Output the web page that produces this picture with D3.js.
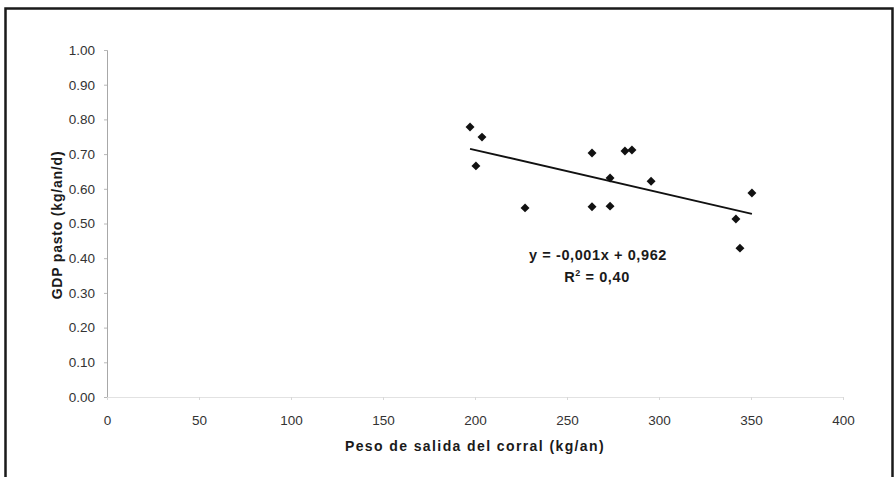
<!DOCTYPE html>
<html>
<head>
<meta charset="utf-8">
<script src="https://cdn.jsdelivr.net/npm/d3@7"></script>
<style>
  html, body { margin: 0; padding: 0; background: #fff; }
  svg { display: block; font-family: "Liberation Sans", Arial, sans-serif; }
</style>
</head>
<body>
<svg id="chart" width="896" height="477"></svg>
<script>
// Exit weight from the pen (kg/an) and average daily gain on pasture (kg/an/d)
const pesoSalida = [197.3, 203.8, 200.5, 227.2, 263.6, 281.5, 285.3, 273.4, 295.7, 263.6, 273.4, 350.5, 341.8, 344.0];
const gdpPasto   = [0.778, 0.749, 0.666, 0.545, 0.703, 0.709, 0.712, 0.631, 0.622, 0.548, 0.550, 0.588, 0.513, 0.429];

const xTicks = [0, 50, 100, 150, 200, 250, 300, 350, 400];
const yTicks = [0, 0.1, 0.2, 0.3, 0.4, 0.5, 0.6, 0.7, 0.8, 0.9, 1.0];

const ecuacion = "y = -0,001x + 0,962";
const r2Valor = "0,40";

const svg = d3.select("#chart");

// Outer frame
svg.append("rect")
  .attr("x", 5.5).attr("y", 8.5)
  .attr("width", 887).attr("height", 480)
  .attr("fill", "none").attr("stroke", "#1a1a1a").attr("stroke-width", 2.5);

const x = d3.scaleLinear().domain([0, 400]).range([107, 843]);
const y = d3.scaleLinear().domain([0, 1]).range([397, 50]);

// Y axis
const yAxis = svg.append("g")
  .attr("transform", "translate(107,0)")
  .call(d3.axisLeft(y).tickValues(yTicks).tickFormat(d3.format(".2f")).tickSize(3).tickPadding(9));
yAxis.select(".domain").attr("stroke", "#a8a8a8");
yAxis.selectAll(".tick line").attr("stroke", "#b8b8b8");
yAxis.selectAll(".tick text").attr("fill", "#333").attr("font-size", 13.5);

// X axis
const xAxis = svg.append("g")
  .attr("transform", "translate(0,397)")
  .call(d3.axisBottom(x).tickValues(xTicks).tickFormat(d3.format("d")).tickSize(3).tickPadding(15));
xAxis.select(".domain").attr("stroke", "#e2e2e2");
xAxis.selectAll(".tick line").attr("stroke", "#d8d8d8");
xAxis.selectAll(".tick text").attr("fill", "#333").attr("font-size", 13.5);

// Axis titles
svg.append("text")
  .attr("x", 475).attr("y", 451)
  .attr("text-anchor", "middle")
  .attr("font-size", 14).attr("font-weight", "bold").attr("fill", "#1a1a1a")
  .attr("letter-spacing", 1.4)
  .text("Peso de salida del corral (kg/an)");

svg.append("text")
  .attr("transform", "translate(62,225) rotate(-90)")
  .attr("text-anchor", "middle")
  .attr("font-size", 14).attr("font-weight", "bold").attr("fill", "#1a1a1a")
  .attr("letter-spacing", 0.8)
  .text("GDP pasto (kg/an/d)");

// Least-squares trend line
const n = pesoSalida.length;
const mx = d3.mean(pesoSalida), my = d3.mean(gdpPasto);
let sxy = 0, sxx = 0;
for (let i = 0; i < n; i++) {
  sxy += (pesoSalida[i] - mx) * (gdpPasto[i] - my);
  sxx += (pesoSalida[i] - mx) ** 2;
}
const slope = sxy / sxx, intercept = my - slope * mx;
const [x0, x1] = d3.extent(pesoSalida);

svg.append("line")
  .attr("x1", x(x0)).attr("y1", y(intercept + slope * x0))
  .attr("x2", x(x1)).attr("y2", y(intercept + slope * x1))
  .attr("stroke", "#111").attr("stroke-width", 1.8);

// Data points (diamonds)
const diamond = d3.symbol().type(d3.symbolSquare).size(40);
svg.append("g").selectAll("path")
  .data(pesoSalida.map((v, i) => [v, gdpPasto[i]]))
  .join("path")
  .attr("d", diamond)
  .attr("transform", d => `translate(${x(d[0])},${y(d[1])}) rotate(45)`)
  .attr("fill", "#111");

// Regression equation and R²
svg.append("text")
  .attr("x", 598).attr("y", 260)
  .attr("text-anchor", "middle")
  .attr("font-size", 14.5).attr("font-weight", "bold").attr("fill", "#1a1a1a")
  .attr("letter-spacing", 0.6)
  .text(ecuacion);

const r2 = svg.append("text")
  .attr("x", 597).attr("y", 282)
  .attr("text-anchor", "middle")
  .attr("font-size", 14.5).attr("font-weight", "bold").attr("fill", "#1a1a1a")
  .attr("letter-spacing", 0.6);
r2.append("tspan").text("R");
r2.append("tspan").attr("font-size", 9).attr("dy", -6).text("2");
r2.append("tspan").attr("dy", 6).text(" = " + r2Valor);
</script>
</body>
</html>
